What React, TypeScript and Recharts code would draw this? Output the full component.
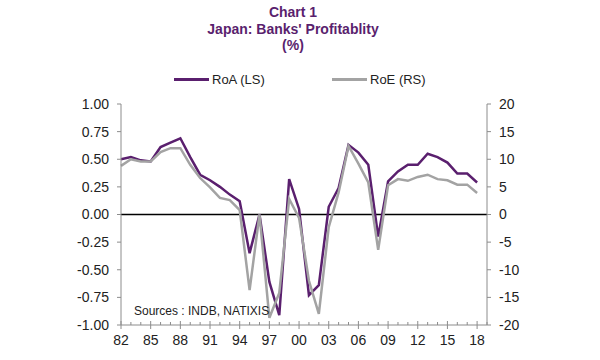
import { LineChart, Line, XAxis, YAxis, ReferenceLine } from 'recharts'

const years = [
  1982, 1983, 1984, 1985, 1986, 1987, 1988, 1989, 1990, 1991, 1992, 1993, 1994,
  1995, 1996, 1997, 1998, 1999, 2000, 2001, 2002, 2003, 2004, 2005, 2006, 2007,
  2008, 2009, 2010, 2011, 2012, 2013, 2014, 2015, 2016, 2017, 2018,
]

// RoA, left scale (%)
const roa = [
  0.5, 0.52, 0.49, 0.48, 0.61, 0.65, 0.69, 0.52, 0.36, 0.31, 0.25, 0.18, 0.12,
  -0.35, 0.0, -0.61, -0.91, 0.32, 0.05, -0.73, -0.64, 0.07, 0.24, 0.63, 0.56, 0.45,
  -0.2, 0.3, 0.39, 0.45, 0.45, 0.55, 0.52, 0.47, 0.37, 0.37, 0.29,
]

// RoE, right scale (%)
const roe = [
  8.8, 10.0, 9.6, 9.6, 11.3, 12.0, 12.0, 9.0, 6.6, 4.9, 3.0, 2.6, 0.8,
  -13.7, 0.0, -18.7, -14.2, 2.8, -0.6, -12.0, -18.0, -2.3, 4.0, 12.4, 9.2, 5.8,
  -6.4, 5.3, 6.4, 6.1, 6.8, 7.2, 6.4, 6.2, 5.4, 5.4, 3.9,
]

const leftTicks = [-1, -0.75, -0.5, -0.25, 0, 0.25, 0.5, 0.75, 1]
const rightTicks = [-20, -15, -10, -5, 0, 5, 10, 15, 20]
const yearTicks = Array.from({ length: 38 }, (_, i) => 1982 + i)

const data = years.map((year, i) => ({ year, roa: roa[i], roe: roe[i] }))

const PURPLE = '#5a1f6e'
const GREY = '#a3a3a3'
const AXIS = '#8c8c8c'
const FONT = 'Arial, "Liberation Sans", sans-serif'

const YearTick = (props: any) => {
  const { x, y, payload } = props
  const v = payload.value as number
  const major = (v - 1982) % 3 === 0 && v < 2019
  return (
    <g>
      {major ? (
        <line x1={x} x2={x} y1={y - 4} y2={y + 4} stroke={AXIS} />
      ) : (
        <line x1={x} x2={x} y1={y - 3} y2={y} stroke={AXIS} />
      )}
      {major && (
        <text x={x} y={y + 20} textAnchor="middle" fontSize={14} fill="#222" fontFamily={FONT}>
          {String(v % 100).padStart(2, '0')}
        </text>
      )}
    </g>
  )
}

export default function App() {
  return (
    <div style={{ position: 'absolute', left: 0, top: 0, width: 600, height: 360, background: '#fff', fontFamily: FONT }}>
      <div style={{ position: 'absolute', left: 0, top: 4, width: 586, textAlign: 'center', color: PURPLE, fontWeight: 'bold', fontSize: 14, lineHeight: '16.5px' }}>
        <div>Chart 1</div>
        <div>Japan: Banks' Profitablity</div>
        <div>(%)</div>
      </div>
      <div style={{ position: 'absolute', left: 174, top: 72, display: 'flex', alignItems: 'center', fontSize: 13, color: '#222' }}>
        <span style={{ display: 'inline-block', width: 35, height: 3, background: PURPLE, marginRight: 3 }} />
        <span>RoA (LS)</span>
      </div>
      <div style={{ position: 'absolute', left: 332, top: 72, display: 'flex', alignItems: 'center', fontSize: 13, color: '#222' }}>
        <span style={{ display: 'inline-block', width: 35, height: 3, background: GREY, marginRight: 3 }} />
        <span>RoE (RS)</span>
      </div>
      <LineChart width={600} height={360} data={data} margin={{ top: 104, right: 0, bottom: 0, left: 0 }}>
        <XAxis
          dataKey="year"
          type="number"
          domain={[1982, 2019]}
          ticks={yearTicks}
          interval={0}
          height={35}
          stroke={AXIS}
          tickLine={false}
          tickSize={0}
          tickMargin={0}
          tick={<YearTick />}
        />
        <YAxis
          yAxisId="left"
          domain={[-1, 1]}
          ticks={leftTicks}
          width={121}
          stroke={AXIS}
          tickSize={4}
          tickMargin={8}
          tick={{ fill: '#222', fontSize: 14, fontFamily: FONT }}
          tickFormatter={(v: number) => v.toFixed(2)}
        />
        <YAxis
          yAxisId="right"
          orientation="right"
          domain={[-20, 20]}
          ticks={rightTicks}
          width={113}
          stroke={AXIS}
          tickSize={4}
          tickMargin={8}
          tick={{ fill: '#222', fontSize: 14, fontFamily: FONT }}
        />
        <ReferenceLine yAxisId="left" y={0} stroke="#000" strokeWidth={1.5} />
        <Line yAxisId="left" dataKey="roa" stroke={PURPLE} strokeWidth={2.5} dot={false} isAnimationActive={false} />
        <Line yAxisId="right" dataKey="roe" stroke={GREY} strokeWidth={2.5} dot={false} isAnimationActive={false} />
      </LineChart>
      <div style={{ position: 'absolute', left: 134, top: 304, fontSize: 12, color: '#222' }}>Sources : INDB, NATIXIS</div>
    </div>
  )
}
